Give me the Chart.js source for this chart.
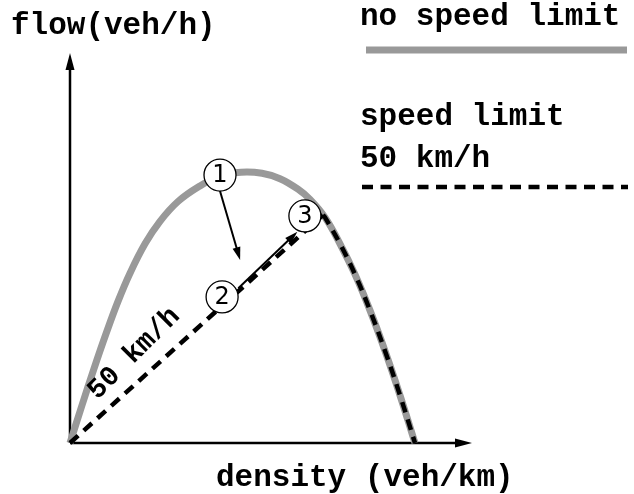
<!DOCTYPE html>
<html>
<head>
<meta charset="utf-8">
<script src="https://cdn.jsdelivr.net/npm/chart.js@4"></script>
<style>
  html, body { margin: 0; padding: 0; background: #fff; }
  canvas { display: block; }
</style>
</head>
<body>
<canvas id="chartFD" width="634" height="494"></canvas>
<script>
// fundamental diagram, no speed limit (gray curve)
const density = [0, 4, 8, 12, 16, 20, 25, 30, 36, 43, 50, 57, 64, 70, 76, 80, 85, 90, 95, 100, 105, 110, 115];
const flow = [0, 12.6, 24.8, 36.4, 47.2, 56.6, 66.4, 73.9, 80.5, 85.5, 89, 90.25, 89.9, 88.1, 84.6, 81.2, 75.2, 66.4, 56.2, 44.2, 30.7, 15.9, 0];

// 50 km/h speed limit line, meets the curve at the junction
const limitDensity = [0, 84.3];
const limitFlow = [0, 76];

// states 1, 2, 3
const stateLabels = ["1", "2", "3"];
const stateDensity = [50, 50.7, 78.3];
const stateFlow = [89.3, 48.7, 75.7];

// transitions 1 -> 2, 2 -> 3 (start / tip)
const arrowFromX = [50, 56.1];
const arrowFromY = [84, 51.6];
const arrowToX = [56.7, 75.8];
const arrowToY = [61, 70.4];

const font = "bold 31px 'Liberation Mono', 'Courier New', monospace";

const curve = density.map((x, i) => ({ x: x, y: flow[i] }));
const limitLine = limitDensity.map((x, i) => ({ x: x, y: limitFlow[i] }));
const congested = [{ x: limitDensity[1], y: limitFlow[1] }].concat(curve.filter((p) => p.x > limitDensity[1]));
const states = stateDensity.map((x, i) => ({ x: x, y: stateFlow[i] }));

function arrowHead(ctx, x1, y1, x2, y2, len, half) {
  const a = Math.atan2(y2 - y1, x2 - x1);
  ctx.beginPath();
  ctx.moveTo(x2, y2);
  ctx.lineTo(x2 - len * Math.cos(a) + half * Math.sin(a), y2 - len * Math.sin(a) - half * Math.cos(a));
  ctx.lineTo(x2 - len * Math.cos(a) - half * Math.sin(a), y2 - len * Math.sin(a) + half * Math.cos(a));
  ctx.closePath();
  ctx.fill();
}

const decor = {
  id: "decor",
  beforeDatasetsDraw(chart) {
    const { ctx, chartArea: ca } = chart;
    ctx.save();
    ctx.strokeStyle = "#000";
    ctx.fillStyle = "#000";
    ctx.lineWidth = 2.5;
    ctx.beginPath();
    ctx.moveTo(ca.left, ca.bottom);
    ctx.lineTo(ca.right - 12, ca.bottom);
    ctx.moveTo(ca.left, ca.bottom);
    ctx.lineTo(ca.left, ca.top + 12);
    ctx.stroke();
    arrowHead(ctx, ca.left, ca.bottom, ca.right, ca.bottom, 17, 4.5);
    arrowHead(ctx, ca.left, ca.bottom, ca.left, ca.top, 17, 4.5);
    ctx.restore();
  },
  afterDatasetsDraw(chart) {
    const { ctx } = chart;
    const xs = chart.scales.x;
    const ys = chart.scales.y;
    ctx.save();

    // transition arrows
    ctx.strokeStyle = "#000";
    ctx.fillStyle = "#000";
    ctx.lineWidth = 2;
    arrowFromX.forEach((fx, i) => {
      const x1 = xs.getPixelForValue(fx);
      const y1 = ys.getPixelForValue(arrowFromY[i]);
      const x2 = xs.getPixelForValue(arrowToX[i]);
      const y2 = ys.getPixelForValue(arrowToY[i]);
      const a = Math.atan2(y2 - y1, x2 - x1);
      ctx.beginPath();
      ctx.moveTo(x1, y1);
      ctx.lineTo(x2 - 8 * Math.cos(a), y2 - 8 * Math.sin(a));
      ctx.stroke();
      arrowHead(ctx, x1, y1, x2, y2, 13, 4);
    });

    // state numbers
    ctx.font = "24px 'DejaVu Sans', sans-serif";
    ctx.textAlign = "center";
    ctx.textBaseline = "middle";
    stateLabels.forEach((t, i) => {
      ctx.fillText(t, xs.getPixelForValue(stateDensity[i]), ys.getPixelForValue(stateFlow[i]) + 1);
    });

    // rotated speed label along the limit line
    ctx.save();
    ctx.translate(xs.getPixelForValue(21.4), ys.getPixelForValue(29.8));
    ctx.rotate(-Math.PI / 4);
    ctx.font = "bold 28px 'Liberation Mono', 'Courier New', monospace";
    ctx.fillText("50 km/h", 0, 0);
    ctx.restore();

    // axis titles
    ctx.font = font;
    ctx.textAlign = "left";
    ctx.textBaseline = "alphabetic";
    ctx.fillText("flow(veh/h)", 11, 34);
    ctx.fillText("density (veh/km)", 216, 486);

    // legend
    ctx.fillText("no speed limit", 360, 25);
    ctx.fillText("speed limit", 360, 125);
    ctx.fillText("50 km/h", 360, 167);
    ctx.lineWidth = 7;
    ctx.strokeStyle = "#999999";
    ctx.beginPath();
    ctx.moveTo(366, 50);
    ctx.lineTo(627, 50);
    ctx.stroke();
    ctx.lineWidth = 4.5;
    ctx.strokeStyle = "#000";
    ctx.setLineDash([11, 7.5]);
    ctx.beginPath();
    ctx.moveTo(362, 187);
    ctx.lineTo(628, 187);
    ctx.stroke();
    ctx.restore();
  },
};

new Chart(document.querySelector("#chartFD"), {
  type: "scatter",
  data: {
    datasets: [
      {
        label: "states",
        data: states,
        pointRadius: 16,
        pointBackgroundColor: "#fff",
        pointBorderColor: "#000",
        pointBorderWidth: 1.3,
        showLine: false,
        clip: false,
      },
      {
        label: "speed limit 50 km/h (congested)",
        data: congested,
        showLine: true,
        borderColor: "#000",
        borderWidth: 4.5,
        borderDash: [11, 7.5],
        tension: 0.4,
        pointRadius: 0,
        clip: false,
      },
      {
        label: "speed limit 50 km/h",
        data: limitLine,
        showLine: true,
        borderColor: "#000",
        borderWidth: 4.5,
        borderDash: [11, 7.5],
        tension: 0,
        pointRadius: 0,
        clip: false,
      },
      {
        label: "no speed limit",
        data: curve,
        showLine: true,
        borderColor: "#999999",
        borderWidth: 7,
        tension: 0.4,
        pointRadius: 0,
        clip: false,
      },
    ],
  },
  options: {
    responsive: false,
    animation: false,
    layout: {
      padding: { left: 70, top: 53, right: 162, bottom: 51 },
    },
    scales: {
      x: { type: "linear", min: 0, max: 134, display: false },
      y: { type: "linear", min: 0, max: 130, display: false },
    },
    plugins: {
      legend: { display: false },
      tooltip: { enabled: false },
    },
  },
  plugins: [decor],
});
</script>
</body>
</html>
